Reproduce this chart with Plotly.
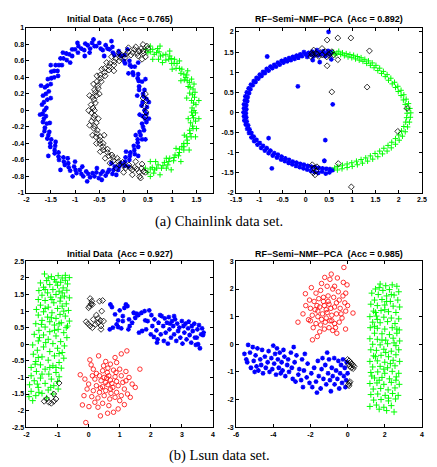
import plotly.graph_objects as go

# ---------------- Panel 1: Chainlink, Initial Data ----------------
p1_title = "Initial Data \u00a0(Acc = 0.765)"
p1_blue = [(0.43,0.00),(0.37,0.06),(0.47,0.14),(0.40,0.20),(0.32,0.25),(0.38,0.35),(0.29,0.39),(0.20,0.43),(0.23,0.53),(0.13,0.55),(0.03,0.57),(0.02,0.67),(-0.09,0.68),(-0.19,0.67),(-0.23,0.77),(-0.33,0.75),(-0.43,0.73),(-0.50,0.82),
 (0.48,0.04),(0.39,0.10),(0.41,0.17),(0.43,0.25),(0.32,0.29),(0.31,0.36),(0.30,0.44),(0.19,0.46),(0.16,0.53),(0.12,0.60),(0.01,0.60),(-0.05,0.66),(-0.10,0.72),(-0.22,0.70),(-0.29,0.74),(-0.37,0.79),(-0.47,0.75),(-0.56,0.78),
 (-0.60,0.78),(-0.65,0.82),(-0.69,0.75),(-0.74,0.79),(-0.79,0.81),(-0.81,0.73),(-0.87,0.75),(-0.93,0.78),(-0.94,0.70),(-1.00,0.74),(-1.06,0.74),(-1.06,0.66),(-1.12,0.68),(-1.18,0.69),(-1.17,0.61),(-1.24,0.63),(-1.30,0.63),(-1.27,0.55),
 (-1.33,0.55),(-1.40,0.55),(-1.36,0.48),(-1.43,0.48),(-1.49,0.47),(-1.43,0.40),(-1.49,0.39),(-1.56,0.38),(-1.50,0.32),(-1.57,0.30),(-1.62,0.28),(-1.54,0.23),(-1.60,0.20),(-1.66,0.18),(-1.57,0.13),(-1.64,0.10),(-1.68,0.07),(-1.59,0.03),
 (-1.63,0.00),(-1.67,-0.04),(-1.60,-0.07),(-1.64,-0.10),(-1.66,-0.14),(-1.58,-0.16),(-1.62,-0.21),(-1.63,-0.25),(-1.53,-0.26),(-1.55,-0.30),(-1.57,-0.34),(-1.49,-0.35),(-1.51,-0.40),(-1.51,-0.44),(-1.41,-0.43),(-1.42,-0.48),(-1.42,-0.52),(-1.34,-0.51),
 (-1.34,-0.56),(-1.33,-0.60),(-1.24,-0.57),(-1.23,-0.62),(-1.21,-0.66),(-1.14,-0.64),(-1.13,-0.69),(-1.10,-0.73),(-1.02,-0.68),(-0.99,-0.72),(-0.97,-0.76),(-0.90,-0.72),(-0.87,-0.77),(-0.83,-0.80),(-0.77,-0.74),(-0.73,-0.77),(-0.69,-0.81),(-0.64,-0.76),
 (-0.60,-0.80),(-0.56,-0.75),(-0.51,-0.82),(-0.47,-0.77),(-0.43,-0.74),(-0.37,-0.79),(-0.33,-0.75),(-0.30,-0.72),(-0.23,-0.77),(-0.21,-0.72),(-0.18,-0.68),(-0.11,-0.72),(-0.09,-0.68),(-0.06,-0.64),(0.02,-0.67),(0.03,-0.62),(0.04,-0.57),(0.12,-0.60),
 (0.13,-0.55),(0.14,-0.51),(0.23,-0.53),(0.22,-0.48),(0.21,-0.43),(0.30,-0.44),(0.29,-0.39),(0.29,-0.35),(0.38,-0.35),(0.35,-0.30),(0.33,-0.26),(0.42,-0.24),(0.40,-0.20),(0.38,-0.16),(0.47,-0.14),(0.44,-0.10),(0.39,-0.07),(0.47,-0.04),
 (-0.62,0.86),(-0.95,0.82),(-1.25,0.70),(-1.50,0.55),(-1.70,0.30),(-1.72,-0.05),(-1.68,-0.30),(-1.55,-0.55),(-1.30,-0.72),(-1.05,-0.80),(-0.75,-0.86),(-0.45,-0.84),(-0.15,-0.78),(0.10,-0.68),
 (0.30,-0.55),(0.45,-0.35),(0.52,-0.10),(0.52,0.10),(0.45,0.38),(0.30,0.58),(0.08,0.74),(-0.25,0.84),(-0.40,0.66),(-0.80,0.66),(-1.10,0.58),(-1.35,0.42),(-1.50,0.15),(-1.52,-0.15),
 (-1.40,-0.38),(-1.15,-0.58),(-0.85,-0.68),(-0.55,-0.70),(-0.25,-0.64),(0.05,-0.50),(0.25,-0.30),(0.33,-0.05),(0.28,0.18),(0.10,0.45),(-0.70,0.70),(-1.00,-0.62)]
p1_green = [(0.46,0.74),(0.50,0.70),(0.55,0.71),(0.60,0.74),(0.63,0.68),(0.68,0.70),(0.73,0.71),(0.76,0.66),(0.81,0.67),(0.87,0.68),(0.87,0.61),(0.93,0.62),(0.98,0.63),(0.99,0.57),(1.04,0.57),(1.10,0.57),(1.08,0.51),(1.15,0.51),
 (1.20,0.50),(1.18,0.45),(1.24,0.44),(1.30,0.43),(1.25,0.37),(1.31,0.36),(1.36,0.34),(1.33,0.29),(1.37,0.28),(1.43,0.26),(1.36,0.21),(1.42,0.19),(1.46,0.16),(1.40,0.12),(1.44,0.09),(1.49,0.07),(1.41,0.03),(1.45,0.00),
 (1.48,-0.03),(1.42,-0.06),(1.44,-0.09),(1.48,-0.13),(1.38,-0.15),(1.42,-0.19),(1.43,-0.22),(1.36,-0.24),(1.37,-0.28),(1.39,-0.32),(1.30,-0.32),(1.31,-0.36),(1.31,-0.40),(1.24,-0.40),(1.24,-0.44),(1.24,-0.48),(1.15,-0.47),(1.15,-0.51),
 (1.13,-0.55),(1.06,-0.54),(1.04,-0.57),(1.03,-0.61),(0.95,-0.58),(0.93,-0.62),(0.91,-0.66),(0.84,-0.63),(0.81,-0.67),(0.78,-0.70),(0.71,-0.66),(0.68,-0.70),(0.64,-0.72),(0.59,-0.69),(0.55,-0.71),(0.50,-0.75),(0.45,-0.70),
 (0.70,0.75),(0.95,0.66),(1.28,0.40),(1.40,-0.02),(1.20,-0.44),(0.88,-0.70),(0.62,-0.76),(1.47,0.22),(1.05,0.62),
 (0.55,0.78),(0.75,0.78),(0.95,0.72),(1.15,0.60),(1.32,0.48),(1.45,0.32),(1.55,0.12),(1.55,-0.10),(1.48,-0.32),(1.35,-0.48),(1.18,-0.62),(0.98,-0.72),(0.75,-0.78),(0.55,-0.80),
 (0.60,0.62),(0.80,0.58),(1.00,0.50),(1.18,0.36),(1.30,0.15),(1.33,-0.10),(1.25,-0.30),(1.08,-0.46),(0.88,-0.58),(0.66,-0.62),(1.40,0.38),(1.50,-0.22),(0.72,0.62),(0.55,-0.62)]
p1_black = [(0.50,0.75),(0.41,0.69),(0.36,0.75),(0.32,0.72),(0.28,0.69),(0.22,0.74),(0.19,0.70),(0.15,0.67),(0.09,0.71),(0.05,0.68),(0.03,0.64),(-0.04,0.67),(-0.07,0.64),(-0.09,0.60),(-0.16,0.63),(-0.19,0.59),(-0.20,0.55),(-0.28,0.57),
 (-0.29,0.53),(-0.30,0.49),(-0.39,0.51),(-0.39,0.46),(-0.38,0.42),(-0.48,0.43),(-0.47,0.39),(-0.46,0.35),(-0.55,0.35),(-0.53,0.30),(-0.52,0.27),(-0.60,0.25),(-0.58,0.22),(-0.56,0.18),(-0.64,0.16),(-0.61,0.13),(-0.58,0.09),(-0.67,0.07),(-0.63,0.03),(-0.60,0.00),
 (-0.66,-0.03),(-0.60,-0.06),(-0.62,-0.09),(-0.66,-0.13),(-0.56,-0.15),(-0.60,-0.19),(-0.61,-0.22),(-0.54,-0.24),(-0.55,-0.28),(-0.57,-0.32),(-0.48,-0.32),(-0.49,-0.36),(-0.49,-0.40),(-0.42,-0.40),(-0.42,-0.44),(-0.42,-0.48),(-0.33,-0.47),(-0.33,-0.51),
 (-0.31,-0.55),(-0.24,-0.54),(-0.22,-0.57),(-0.21,-0.61),(-0.13,-0.58),(-0.11,-0.62),(-0.09,-0.66),(-0.02,-0.63),(0.01,-0.67),(0.04,-0.70),(0.11,-0.66),(0.14,-0.70),(0.18,-0.72),(0.23,-0.69),(0.27,-0.71),(0.32,-0.75),(0.37,-0.70),(0.41,-0.74),
 (0.45,0.20),(0.47,0.12),(0.43,0.05),(0.46,-0.02),(0.44,-0.08),(0.40,0.15),(0.45,0.65),(0.38,0.62),(0.30,0.66),(0.33,-0.80),(0.25,-0.62),(0.38,-0.65),
 (0.48,0.78),(0.40,0.80),(0.25,0.77),(0.10,0.76),(-0.10,0.70),(-0.25,0.65),(-0.35,0.58),(-0.45,0.50),(-0.55,0.42),(-0.62,0.32),(-0.70,0.18),(-0.72,0.00),(-0.70,-0.18),(-0.64,-0.30),
 (-0.56,-0.40),(-0.48,-0.50),(-0.38,-0.58),(-0.28,-0.64),(-0.15,-0.70),(0.00,-0.75),(0.18,-0.78),(0.35,-0.82),(-0.50,0.20),(-0.52,-0.10),(-0.40,-0.30),(-0.20,0.48),(0.45,-0.75),(0.40,0.72)]

# ---------------- Panel 2: Chainlink, RF-Semi-NMF-PCA ----------------
p2_title = "RF\u2212Semi\u2212NMF\u2212PCA \u00a0(Acc = 0.892)"
p2_blue = [(0.55,1.50),(0.52,1.44),(0.48,1.53),(0.45,1.46),(0.42,1.40),(0.38,1.52),(0.35,1.45),(0.30,1.49),(0.27,1.42),(0.24,1.55),(0.20,1.46),(0.17,1.40),(0.14,1.51),(0.10,1.44),(0.06,1.48),(0.03,1.38),(0.00,1.45),(-0.04,1.50),
 (-0.08,1.40),(-0.12,1.44),(-0.16,1.36),(-0.20,1.41),(-0.24,1.33),(-0.28,1.38),(-0.32,1.30),(-0.36,1.35),(-0.40,1.27),(-0.44,1.32),(-0.48,1.24),(-0.52,1.28),(-0.56,1.19),(-0.60,1.24),(-0.64,1.14),(-0.68,1.18),(-0.72,1.10),(-0.76,1.14),
 (-0.80,1.04),(-0.84,1.08),(-0.88,0.98),(-0.92,1.01),(-0.95,0.91),(-0.99,0.94),(-1.02,0.84),(-1.06,0.86),(-1.08,0.76),(-1.12,0.78),(-1.14,0.68),(-1.18,0.69),(-1.19,0.58),(-1.23,0.60),(-1.22,0.48),(-1.27,0.50),(-1.25,0.38),(-1.30,0.40),
 (-1.26,0.28),(-1.31,0.30),(-1.28,0.18),(-1.33,0.20),(-1.28,0.08),(-1.33,0.10),(-1.29,-0.02),(-1.34,0.00),(-1.28,-0.12),(-1.33,-0.10),(-1.27,-0.22),(-1.32,-0.20),(-1.24,-0.32),(-1.29,-0.30),(-1.21,-0.42),(-1.26,-0.41),(-1.17,-0.51),(-1.22,-0.51),
 (-1.12,-0.60),(-1.17,-0.62),(-1.06,-0.68),(-1.11,-0.71),(-0.99,-0.76),(-1.04,-0.80),(-0.92,-0.83),(-0.96,-0.88),(-0.84,-0.89),(-0.88,-0.95),(-0.76,-0.95),(-0.80,-1.01),(-0.68,-1.01),(-0.71,-1.07),(-0.60,-1.05),(-0.62,-1.12),(-0.52,-1.10),(-0.53,-1.17),
 (-0.44,-1.14),(-0.45,-1.21),(-0.36,-1.18),(-0.37,-1.25),(-0.28,-1.22),(-0.29,-1.29),(-0.20,-1.25),(-0.21,-1.33),(-0.12,-1.28),(-0.13,-1.36),(-0.04,-1.30),(-0.05,-1.39),(0.04,-1.33),(0.03,-1.42),(0.12,-1.35),(0.11,-1.45),(0.20,-1.36),(0.19,-1.48),
 (0.28,-1.38),(0.27,-1.50),(0.36,-1.39),(0.35,-1.47),(0.44,-1.40),(0.43,-1.52),(0.52,-1.41),(0.51,-1.49),(0.58,-1.43),
 (0.49,2.00),(-0.83,1.39),(-0.17,0.65),(0.58,0.20),(0.42,-0.69),(-0.80,-0.64),(-0.73,-1.39),(0.40,-1.20),(0.30,1.25),(0.15,1.30),(0.55,1.32)]
p2_green = [(0.60,1.50),(0.63,1.43),(0.67,1.47),(0.71,1.52),(0.75,1.44),(0.79,1.48),(0.83,1.41),(0.87,1.46),(0.91,1.38),(0.95,1.44),(0.99,1.36),(1.03,1.42),(1.07,1.33),(1.11,1.39),(1.15,1.30),(1.19,1.36),(1.23,1.27),(1.27,1.32),
 (1.31,1.22),(1.35,1.28),(1.39,1.17),(1.43,1.23),(1.47,1.11),(1.51,1.17),(1.55,1.04),(1.59,1.10),(1.63,0.97),(1.67,1.02),(1.71,0.89),(1.75,0.94),(1.78,0.80),(1.83,0.85),(1.86,0.71),(1.91,0.75),(1.93,0.62),(1.98,0.65),
 (1.99,0.52),(2.05,0.55),(2.05,0.42),(2.11,0.44),(2.10,0.31),(2.16,0.33),(2.14,0.20),(2.21,0.22),(2.17,0.09),(2.24,0.10),(2.18,-0.02),(2.26,-0.01),(2.17,-0.13),(2.25,-0.12),(2.15,-0.24),(2.23,-0.24),(2.11,-0.35),(2.19,-0.36),
 (2.06,-0.46),(2.14,-0.48),(2.00,-0.56),(2.08,-0.59),(1.93,-0.65),(2.01,-0.69),(1.85,-0.74),(1.93,-0.79),(1.77,-0.82),(1.84,-0.88),(1.68,-0.89),(1.75,-0.96),(1.59,-0.96),(1.65,-1.03),(1.49,-1.02),(1.55,-1.10),(1.39,-1.08),(1.44,-1.16),
 (1.29,-1.13),(1.33,-1.21),(1.19,-1.17),(1.22,-1.26),(1.09,-1.21),(1.11,-1.30),(0.99,-1.25),(1.00,-1.34),(0.89,-1.28),(0.89,-1.37),(0.79,-1.31),(0.78,-1.40),(0.69,-1.34),(0.68,-1.43),(0.62,-1.38)]
p2_black = [(0.14,1.43),(0.21,1.47),(0.28,1.39),(0.35,1.43),(0.42,1.51),(0.53,1.47),(0.60,1.43),(0.35,1.59),(0.17,1.55),(0.56,1.51),(0.11,1.39),(0.13,1.47),(0.45,1.38),(0.50,1.42),(0.25,1.45),
 (0.46,1.80),(0.69,1.85),(0.97,1.85),(1.37,1.53),(0.69,1.31),(0.46,1.16),(0.56,0.51),(1.32,0.63),(2.18,0.10),(1.98,-0.47),(0.70,-1.27),(0.98,-1.85),
 (0.14,-1.30),(0.18,-1.38),(0.22,-1.45),(0.16,-1.50),(0.24,-1.35),(0.20,-1.55)]

# ---------------- Panel 3: Lsun, Initial Data ----------------
p3_title = "Initial Data \u00a0(Acc = 0.927)"
p3_green = [(-1.42,2.12),(-1.20,2.04),(-0.98,2.07),(-0.85,2.00),(-0.62,2.01),(-1.35,1.92),(-1.10,1.95),(-0.75,1.93),(-1.55,1.85),(-0.90,1.87),(-1.25,1.80),(-1.00,1.78),(-0.68,1.82),(-1.45,1.72),(-0.82,1.70),
 (-1.60,1.62),(-1.15,1.65),(-0.95,1.60),(-0.70,1.63),(-1.32,1.55),(-1.50,1.48),(-1.05,1.50),(-0.78,1.45),(-1.22,1.42),(-0.62,1.40),(-1.62,1.35),(-1.40,1.32),(-0.92,1.30),(-1.12,1.25),(-0.72,1.22),
 (-1.55,1.18),(-1.30,1.12),(-0.85,1.15),(-1.00,1.08),(-1.68,1.05),(-0.65,1.02),(-1.45,0.98),(-1.18,0.95),(-0.92,0.90),(-1.62,0.88),(-1.32,0.82),(-0.75,0.85),(-1.05,0.78),(-1.50,0.72),(-0.62,0.70),
 (-1.25,0.68),(-0.88,0.65),(-1.70,0.62),(-1.10,0.58),(-1.40,0.52),(-0.72,0.50),(-0.98,0.45),(-1.60,0.42),(-1.25,0.38),(-0.80,0.35),(-1.75,0.30),(-1.45,0.28),(-1.05,0.25),(-0.70,0.20),(-1.30,0.15),
 (-1.62,0.10),(-0.90,0.08),(-1.15,0.02),(-1.80,-0.02),(-0.78,-0.05),(-1.45,-0.08),(-1.00,-0.12),(-1.65,-0.18),(-1.25,-0.22),(-0.85,-0.25),(-1.78,-0.30),(-1.10,-0.35),(-1.50,-0.38),(-0.80,-0.42),(-1.30,-0.48),
 (-1.70,-0.52),(-0.95,-0.55),(-1.55,-0.62),(-1.15,-0.65),(-1.85,-0.70),(-0.88,-0.72),(-1.40,-0.75),(-1.68,-0.82),(-1.05,-0.85),(-1.28,-0.90),(-1.85,-0.95),(-0.95,-0.98),(-1.55,-1.02),(-1.20,-1.05),(-1.75,-1.10),
 (-1.00,-1.12),(-1.40,-1.18),(-1.90,-1.22),(-1.12,-1.25),(-1.62,-1.30),(-0.98,-1.35),(-1.30,-1.38),(-1.85,-1.42),(-1.50,-1.48),(-1.15,-1.50),(-1.92,-1.58),(-1.70,-1.55),(-1.35,-1.62),(-1.80,-1.70),(-1.60,-1.45),
 (-1.30,2.00),(-0.75,2.08),(-1.05,1.88),(-1.40,1.65),(-0.85,1.55),(-1.18,1.35),(-1.40,1.08),(-0.80,1.00),(-1.20,0.80),(-0.95,0.62),(-1.52,0.60),(-1.10,0.42),(-1.38,0.05),(-0.95,-0.28),(-1.62,-0.40),
 (-1.25,-0.70),(-1.50,-0.90),(-1.65,-1.20),(-1.22,-1.30),(-1.05,-0.70),(-0.68,0.55),(-0.90,1.40),(-1.58,0.20),(-1.72,-0.60)]
p3_black = [(0.05,1.38),(0.10,1.30),(0.08,1.22),(0.03,1.15),(0.12,1.20),(0.00,1.10),(0.35,1.30),(0.45,1.32),(0.42,1.00),(0.25,0.88),(0.30,0.78),(0.38,0.72),(0.48,0.70),(0.15,0.75),(-0.08,0.68),
 (-0.02,0.62),(0.05,0.55),(0.12,0.50),(0.22,0.60),(0.40,0.55),(0.40,0.45),(0.30,0.65),
 (-1.43,-1.72),(-1.35,-1.65),(-1.28,-1.75),(-1.20,-1.78),(-1.12,-1.72),(-1.05,-1.65),(-1.12,-1.50),(-0.95,-1.17)]
p3_blue = [(0.70,1.20),(0.75,1.12),(0.68,0.45),(0.78,0.50),(0.85,0.90),(0.90,0.60),(0.95,0.72),(1.00,1.02),(1.05,0.48),(1.10,0.85),(1.15,1.10),(1.20,1.20),(1.25,1.15),(1.30,0.75),(1.32,0.55),
 (1.40,0.65),(1.45,0.95),(1.50,0.80),(1.55,0.92),(1.60,0.88),(1.62,0.35),(1.70,0.95),(1.72,0.40),(1.80,1.00),(1.85,0.45),(1.90,0.70),(1.95,1.02),(2.00,0.30),(2.05,0.55),(2.10,0.22),
 (2.12,0.75),(2.18,0.42),(2.22,0.15),(2.25,0.65),(2.30,0.88),(2.32,0.30),(2.35,0.85),(2.40,0.55),(2.42,0.10),(2.45,0.78),(2.48,0.35),(2.52,0.65),(2.55,0.02),(2.58,0.82),(2.60,0.45),
 (2.65,0.20),(2.68,0.70),(2.72,0.55),(2.75,0.30),(2.78,0.75),(2.82,0.10),(2.85,0.62),(2.88,0.40),(2.92,0.50),(2.95,0.20),(3.00,0.70),(3.02,0.02),(3.05,0.55),(3.08,0.35),(3.12,0.62),
 (3.15,0.15),(3.20,0.48),(3.22,0.68),(3.25,0.28),(3.30,0.05),(3.32,0.55),(3.35,0.40),(3.40,0.62),(3.42,0.20),(3.45,-0.02),(3.50,0.45),(3.52,0.00),(3.55,0.58),(3.58,-0.12),(3.62,0.30),
 (3.65,0.48),(3.70,0.35),(3.68,0.28),(2.20,0.05),(1.28,0.45),(0.95,0.52),(1.10,0.70),(1.82,0.72),(2.62,0.62),(3.48,0.20),(2.02,0.88),(2.75,0.85)]
p3_red = [(-0.09,-2.36),(-0.27,-0.92),(1.23,-0.20),(1.05,-0.29),(1.65,-0.75),(1.34,-1.60),(-0.20,-1.83),(0.38,-2.16),(0.61,-2.08),(0.01,-1.88),(0.32,-0.35),(0.04,-0.47),
 (0.08,-0.62),(0.15,-0.75),(0.55,-0.52),(0.70,-0.60),(0.90,-0.55),(1.00,-0.75),(1.20,-0.82),(0.45,-0.80),(0.60,-0.85),(0.80,-0.78),(0.35,-0.95),(0.50,-1.00),(0.65,-0.95),(0.85,-0.98),
 (1.05,-0.95),(1.30,-1.00),(0.20,-1.05),(0.40,-1.10),(0.55,-1.15),(0.70,-1.08),(0.90,-1.12),(1.10,-1.15),(1.40,-1.20),(0.00,-1.20),(0.25,-1.25),(0.45,-1.28),(0.62,-1.22),(0.78,-1.30),
 (0.95,-1.25),(1.15,-1.35),(-0.05,-1.35),(0.15,-1.40),(0.35,-1.45),(0.55,-1.40),(0.72,-1.48),(0.90,-1.45),(1.05,-1.55),(1.25,-1.50),(0.10,-1.58),(0.30,-1.62),(0.50,-1.55),(0.68,-1.65),
 (0.85,-1.60),(1.00,-1.70),(0.45,-1.78),(0.65,-1.85),(0.20,-1.75),(0.85,-0.40),(0.62,-0.72),(0.48,-0.65),(0.75,-1.18),(0.58,-1.02),(0.38,-1.32),(1.20,-1.10),(0.88,-0.85),(0.70,-1.35),
 (-0.12,-1.05),(0.25,-0.88),(1.50,-1.30),(0.80,-2.05),(0.30,-1.90),(1.15,-1.82),(0.95,-1.95),(-0.15,-1.55),(0.12,-0.95)]

# ---------------- Panel 4: Lsun, RF-Semi-NMF-PCA ----------------
p4_title = "RF\u2212Semi\u2212NMF\u2212PCA \u00a0(Acc = 0.985)"
p4_red = [(-2.67,0.80),(-0.20,2.78),(-0.88,2.54),(-1.23,2.42),(-1.89,0.16),(-1.63,0.28),(0.29,1.13),(-0.11,0.55),(-0.58,0.40),(-2.10,0.89),(-2.27,1.83),(-0.03,2.15),(-0.23,2.24),
 (-1.95,2.05),(-1.70,1.85),(-1.45,1.95),(-1.10,2.10),(-0.80,2.00),(-0.50,1.90),(-2.05,1.60),(-1.80,1.55),(-1.55,1.65),(-1.30,1.70),(-1.05,1.75),(-0.75,1.70),(-0.45,1.60),(-0.15,1.50),
 (-2.00,1.30),(-1.75,1.25),(-1.50,1.35),(-1.25,1.40),(-1.00,1.45),(-0.70,1.35),(-0.40,1.30),(-0.10,1.20),(-1.90,1.05),(-1.60,1.00),(-1.35,1.10),(-1.10,1.15),(-0.85,1.05),(-0.60,1.10),
 (-0.30,0.95),(-1.70,0.75),(-1.45,0.70),(-1.20,0.80),(-0.95,0.85),(-0.70,0.75),(-0.45,0.80),(-1.25,0.55),(-1.00,0.60),(-0.80,0.50),(-1.50,0.45),(-1.15,1.25),(-0.90,1.30),(-1.30,1.55),
 (-1.05,1.55),(-0.60,1.50),(-1.60,1.20),(-0.25,1.75),(-2.25,1.40),(-1.40,2.20),(-0.95,2.35),(-0.70,2.10),(-1.85,0.60),(-2.40,1.10),(-0.55,2.40),(-1.15,0.95),(-1.40,0.90),(-0.85,0.85),
 (-0.35,1.10),(-0.10,1.85),(-2.00,0.85),(-1.65,1.40),(0.00,1.40),(-0.65,0.60)]
p4_green = [(1.75,2.18),(2.05,2.12),(2.40,2.15),(2.65,2.10),(1.50,2.00),(1.90,1.95),(2.25,1.98),(2.75,1.90),(1.30,1.85),(1.65,1.80),(2.10,1.75),(2.50,1.78),(1.45,1.60),(1.85,1.62),(2.30,1.55),
 (2.70,1.60),(1.25,1.45),(1.60,1.40),(2.00,1.42),(2.45,1.38),(2.80,1.35),(1.40,1.20),(1.80,1.22),(2.20,1.18),(2.60,1.15),(1.20,1.00),(1.55,1.02),(1.95,0.98),(2.35,0.95),(2.75,0.92),
 (1.35,0.80),(1.75,0.78),(2.15,0.82),(2.55,0.75),(1.22,0.60),(1.60,0.58),(2.00,0.55),(2.40,0.60),(2.78,0.52),(1.45,0.40),(1.85,0.38),(2.25,0.35),(2.65,0.40),(1.20,0.20),(1.60,0.18),
 (2.05,0.15),(2.45,0.22),(2.80,0.12),(1.35,0.00),(1.75,-0.02),(2.15,0.02),(2.60,-0.05),(1.25,-0.20),(1.55,-0.22),(1.95,-0.18),(2.35,-0.25),(2.75,-0.20),(1.40,-0.42),(1.80,-0.40),(2.20,-0.45),
 (2.60,-0.38),(1.20,-0.62),(1.60,-0.60),(2.00,-0.65),(2.45,-0.58),(2.80,-0.62),(1.35,-0.82),(1.75,-0.80),(2.15,-0.85),(2.55,-0.78),(1.25,-1.02),(1.62,-1.00),(2.00,-1.05),(2.40,-0.98),(2.75,-1.05),
 (1.45,-1.22),(1.85,-1.20),(2.25,-1.25),(2.62,-1.18),(1.20,-1.42),(1.58,-1.40),(1.95,-1.45),(2.35,-1.38),(2.78,-1.45),(1.38,-1.62),(1.78,-1.60),(2.18,-1.65),(2.55,-1.58),(1.25,-1.82),(1.62,-1.80),
 (2.02,-1.85),(2.42,-1.78),(2.72,-1.85),(1.40,-2.02),(1.80,-2.00),(2.20,-2.05),(2.58,-1.98),(1.20,-2.25),(1.55,-2.20),(1.95,-2.28),(2.35,-2.22),(2.50,-2.45),(1.70,-2.35),(2.10,-2.40),(1.50,1.15),
 (2.00,1.25),(1.85,0.15),(2.30,-0.70),(1.70,-1.30),(2.10,1.55),(1.95,-0.90),(1.60,0.90),(2.50,0.05),(1.30,-1.15),(2.20,-1.95),(2.65,0.55),(1.50,-0.45),(2.35,1.80),(1.70,2.05),(2.60,-1.30),
 (1.45,0.65),(2.05,-0.30)]
p4_blue = [(-5.45,-0.55),(-5.40,-0.65),(-5.35,-0.02),(-5.25,-0.30),(-5.20,-0.85),(-5.10,-0.10),(-5.05,-0.60),(-5.00,-1.00),(-4.95,-0.40),(-4.90,-0.80),(-4.85,-0.15),(-4.80,-0.95),(-4.70,-0.55),
 (-4.65,-0.75),(-4.60,-0.20),(-4.55,-1.05),(-4.45,-0.45),(-4.40,-0.85),(-4.30,-0.65),(-4.25,-0.25),(-4.20,-1.00),(-4.10,-0.50),(-4.05,-0.90),(-3.95,-0.70),(-3.90,-0.35),(-3.85,-1.10),
 (-3.80,-0.15),(-3.75,-0.55),(-3.70,-0.85),(-3.65,-0.30),(-3.60,-1.05),(-3.55,-0.65),(-3.50,-0.95),(-3.45,-0.20),(-3.40,-0.45),(-3.35,-1.15),(-3.25,-0.75),(-3.20,-0.55),(-3.15,-1.00),
 (-3.05,-0.30),(-3.00,-0.85),(-2.95,-1.25),(-2.85,-0.65),(-2.80,-1.35),(-2.75,-0.40),(-2.65,-1.10),(-2.60,-0.90),(-2.50,-1.30),(-2.45,-0.55),(-2.35,-0.95),(-2.30,-0.35),(-2.20,-1.20),
 (-2.15,-0.70),(-2.05,-1.40),(-1.95,-1.05),(-1.90,-1.55),(-1.80,-0.85),(-1.70,-1.35),(-1.60,-0.60),(-1.55,-1.15),(-1.45,-1.60),(-1.40,-0.90),(-1.35,-0.50),(-1.30,-1.25),(-1.20,-0.75),
 (-1.15,-1.45),(-1.05,-1.05),(-1.00,-0.55),(-0.95,-1.30),(-0.90,-1.70),(-0.85,-0.85),(-0.80,-1.15),(-0.72,-0.50),(-0.70,-1.45),(-0.62,-0.95),(-0.55,-1.25),(-0.50,-0.60),(-0.45,-1.60),
 (-0.40,-1.05),(-0.35,-0.75),(-0.30,-1.40),(-0.25,-0.55),(-0.20,-1.15),(-0.15,-0.85),(-0.12,-1.55),(-0.05,-0.65),(0.00,-1.05),(-0.08,-1.30),(-1.65,-1.75),(-5.55,-0.35),(-2.90,-0.10),
 (-4.00,-0.05),(-2.40,-1.55),(-1.10,-0.30)]
p4_black = [(0.00,-0.55),(0.08,-0.60),(0.15,-0.65),(0.22,-0.70),(0.28,-0.75),(0.05,-0.72),(0.12,-0.80),(0.20,-0.85),(0.30,-0.88),(0.35,-0.80),(0.10,-1.40),(0.05,-1.45),(0.08,-1.50),(0.13,-1.35)]

# ---------------- axes: ranges, ticks, tick labels ----------------
p1_xrange, p1_yrange = [-2, 1.84], [-1, 1]
p1_xticks = [-2, -1.5, -1, -0.5, 0, 0.5, 1, 1.5]
p1_xlabels = ["-2", "-1.5", "-1", "-0.5", "0", "0.5", "1", "1.5"]
p1_yticks = [-1, -0.8, -0.6, -0.4, -0.2, 0, 0.2, 0.4, 0.6, 0.8, 1]
p1_ylabels = ["-1", "-0.8", "-0.6", "-0.4", "-0.2", "0", "0.2", "0.4", "0.6", "0.8", "1"]

p2_xrange, p2_yrange = [-1.5, 2.5], [-2, 2.1]
p2_xticks = [-1.5, -1, -0.5, 0, 0.5, 1, 1.5, 2, 2.5]
p2_xlabels = ["-1.5", "-1", "-0.5", "0", "0.5", "1", "1.5", "2", "2.5"]
p2_yticks = [-2, -1.5, -1, -0.5, 0, 0.5, 1, 1.5, 2]
p2_ylabels = ["-2", "-1.5", "-1", "-0.5", "0", "0.5", "1", "1.5", "2"]

p3_xrange, p3_yrange = [-2, 4], [-2.5, 2.5]
p3_xticks = [-2, -1, 0, 1, 2, 3, 4]
p3_xlabels = ["-2", "-1", "0", "1", "2", "3", "4"]
p3_yticks = [-2.5, -2, -1.5, -1, -0.5, 0, 0.5, 1, 1.5, 2, 2.5]
p3_ylabels = ["-2.5", "-2", "-1.5", "-1", "-0.5", "0", "0.5", "1", "1.5", "2", "2.5"]

p4_xrange, p4_yrange = [-6, 4], [-3, 3]
p4_xticks = [-6, -4, -2, 0, 2, 4]
p4_xlabels = ["-6", "-4", "-2", "0", "2", "4"]
p4_yticks = [-3, -2, -1, 0, 1, 2, 3]
p4_ylabels = ["-3", "-2", "-1", "0", "1", "2", "3"]

caption_a = "(a) Chainlink data set."
caption_b = "(b) Lsun data set."

# ---------------- styling ----------------
W, H = 437, 467
BLUE, GREEN, BLACK, RED = "#0000ff", "#00ff00", "#000000", "#ff0000"
SANS = "Liberation Sans, Arial, Helvetica, sans-serif"
SERIF = "Liberation Serif, Times New Roman, serif"

def px_x(p):
    return p / W

def px_y(p):
    return 1 - p / H

dom_x_left = [px_x(21), px_x(212.3)]
dom_x_right = [px_x(236), px_x(426.7)]
dom_y_top = [px_y(191.8), px_y(24.3)]
dom_y_bot = [px_y(429.6), px_y(261.3)]

fig = go.Figure()

def add(points, n, symbol, color, size, lw=1.0):
    xs = [p[0] for p in points]
    ys = [p[1] for p in points]
    fig.add_trace(go.Scatter(
        x=xs, y=ys, mode="markers",
        xaxis="x" if n == 1 else f"x{n}", yaxis="y" if n == 1 else f"y{n}",
        marker=dict(symbol=symbol, size=size, color=color,
                    line=dict(color=color, width=lw)),
        showlegend=False, hoverinfo="skip"))

STAR, PLUS, DIAM, CIRC = "asterisk-open", "cross-thin-open", "diamond-open", "circle-open"

add(p1_blue, 1, STAR, BLUE, 4, 1.3)
add(p1_green, 1, PLUS, GREEN, 4, 1.0)
add(p1_black, 1, DIAM, BLACK, 4.5, 0.8)

add(p2_blue, 2, STAR, BLUE, 4, 1.3)
add(p2_green, 2, PLUS, GREEN, 4, 1.0)
add(p2_black, 2, DIAM, BLACK, 4.5, 0.8)

add(p3_green, 3, PLUS, GREEN, 4.5, 1.0)
add(p3_black, 3, DIAM, BLACK, 4.5, 0.8)
add(p3_blue, 3, STAR, BLUE, 4, 1.3)
add(p3_red, 3, CIRC, RED, 4.5, 0.8)

add(p4_red, 4, CIRC, RED, 4.5, 0.8)
add(p4_green, 4, PLUS, GREEN, 4.5, 1.0)
add(p4_blue, 4, STAR, BLUE, 4, 1.3)
add(p4_black, 4, DIAM, BLACK, 4.5, 0.8)

def axis(domain, rng, ticks, labels, anchor):
    return dict(domain=domain, range=rng, anchor=anchor,
                tickmode="array", tickvals=ticks, ticktext=labels,
                showline=True, linecolor="black", linewidth=1, mirror="allticks",
                ticks="inside", ticklen=3, tickwidth=1, tickcolor="black",
                showgrid=False, zeroline=False, fixedrange=True,
                tickfont=dict(family=SANS, size=7, color="black", weight="bold"))

fig.update_layout(
    width=W, height=H, autosize=False,
    margin=dict(l=0, r=0, t=0, b=0),
    paper_bgcolor="white", plot_bgcolor="white",
    xaxis=axis(dom_x_left, p1_xrange, p1_xticks, p1_xlabels, "y"),
    yaxis=axis(dom_y_top, p1_yrange, p1_yticks, p1_ylabels, "x"),
    xaxis2=axis(dom_x_right, p2_xrange, p2_xticks, p2_xlabels, "y2"),
    yaxis2=axis(dom_y_top, p2_yrange, p2_yticks, p2_ylabels, "x2"),
    xaxis3=axis(dom_x_left, p3_xrange, p3_xticks, p3_xlabels, "y3"),
    yaxis3=axis(dom_y_bot, p3_yrange, p3_yticks, p3_ylabels, "x3"),
    xaxis4=axis(dom_x_right, p4_xrange, p4_xticks, p4_xlabels, "y4"),
    yaxis4=axis(dom_y_bot, p4_yrange, p4_yticks, p4_ylabels, "x4"),
)

title_font = dict(family=SANS, size=9, color="black", weight="bold")
for text, dom, yp in [(p1_title, dom_x_left, 15), (p2_title, dom_x_right, 15),
                      (p3_title, dom_x_left, 253.3), (p4_title, dom_x_right, 253.3)]:
    fig.add_annotation(text=text, xref="paper", yref="paper",
                       x=(dom[0] + dom[1]) / 2, y=px_y(yp),
                       xanchor="center", yanchor="middle", showarrow=False,
                       font=title_font)

cap_font = dict(family=SERIF, size=14.5, color="black")
fig.add_annotation(text=caption_a, xref="paper", yref="paper", x=px_x(218.5), y=px_y(221),
                   xanchor="center", yanchor="middle", showarrow=False, font=cap_font)
fig.add_annotation(text=caption_b, xref="paper", yref="paper", x=px_x(218.5), y=px_y(458),
                   xanchor="center", yanchor="middle", showarrow=False, font=cap_font)

fig.write_html("out.html")
